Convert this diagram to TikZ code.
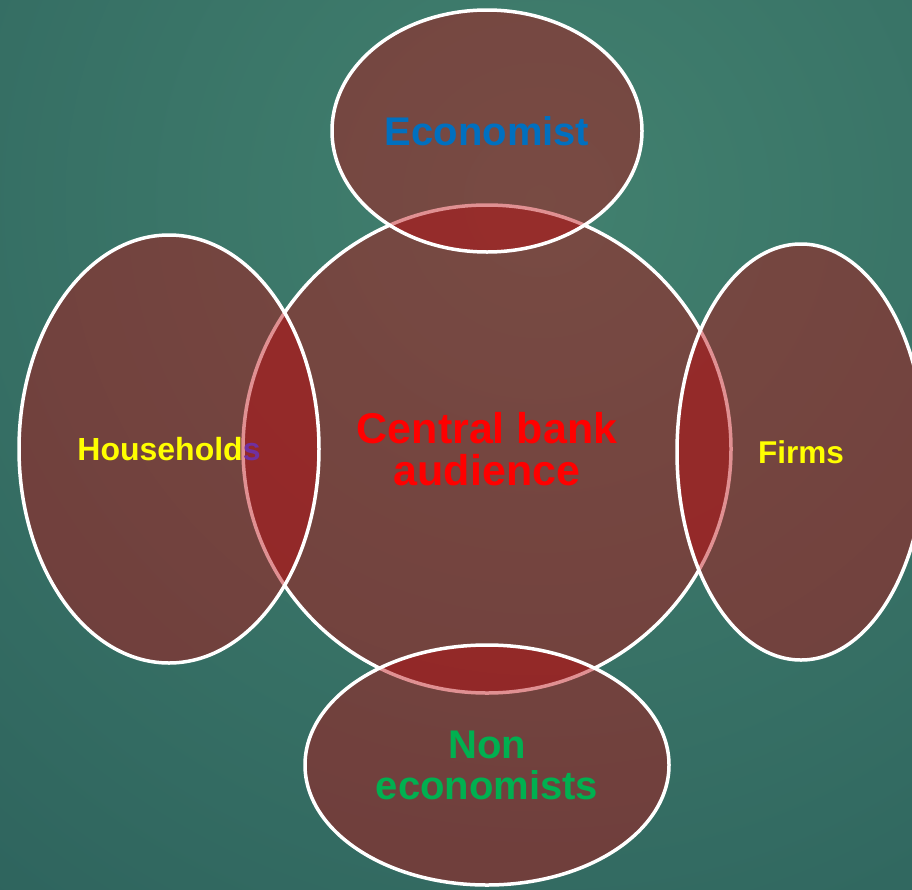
\documentclass[tikz,border=0pt]{standalone}
\usepackage{fontspec}
\setmainfont{Liberation Sans}
\usetikzlibrary{shapes.geometric}
\definecolor{bgIn}{HTML}{42816F}
\definecolor{bgOut}{HTML}{18434A}
\definecolor{blobRed}{HTML}{BB0A0F}
\definecolor{ecoBlue}{HTML}{0070C0}
\definecolor{hhYellow}{HTML}{FFFF00}
\definecolor{hhPurple}{HTML}{7030A0}
\definecolor{nonGreen}{HTML}{00B050}

\begin{document}
\begin{tikzpicture}[x=1pt,y=-1pt]
    \tikzstyle{blob}=[ellipse, draw=white, line width=3.5pt, fill=blobRed, fill opacity=0.45,
      draw opacity=1, text opacity=1, inner sep=0pt, align=center]

    \useasboundingbox (0,0) rectangle (912,889);
    \begin{scope}
      \clip (0,0) rectangle (912,889);
      \shade[inner color=bgIn, outer color=bgOut] (540,200) circle (1900);
    \end{scope}

    \node[blob, circle, minimum size=488, text=red,
      font=\bfseries\fontsize{43}{42}\selectfont] (cba) at (487,449) {Central bank\\audience};

    \node[blob, minimum width=310, minimum height=242, text=ecoBlue,
      font=\bfseries\fontsize{40}{40}\selectfont] (econ) at (487,131) {Economist};
    \node[blob, minimum width=300, minimum height=428,
      font=\bfseries\fontsize{32}{32}\selectfont] (hh) at (169,449) {{\color{hhYellow}Household}{\color{hhPurple}s}};
    \node[blob, minimum width=248, minimum height=416, text=hhYellow,
      font=\bfseries\fontsize{31.5}{32}\selectfont] (firms) at (801,452) {Firms};
    \node[blob, minimum width=364, minimum height=240, text=nonGreen,
      font=\bfseries\fontsize{40}{41}\selectfont] (noneco) at (487,765) {Non\\economists};
\end{tikzpicture}
\end{document}
